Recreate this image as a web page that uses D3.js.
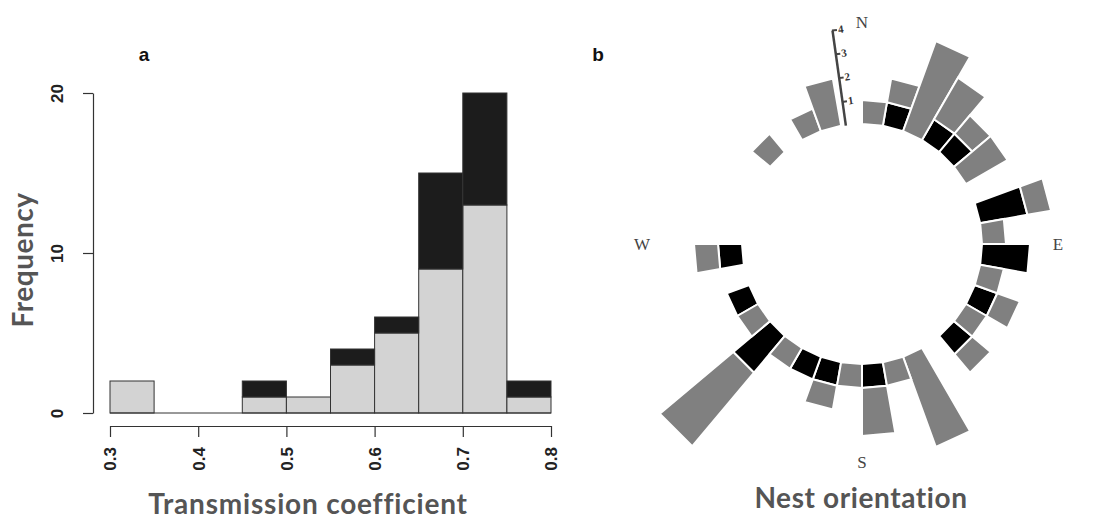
<!DOCTYPE html>
<html>
<head>
<meta charset="utf-8">
<script src="https://cdn.jsdelivr.net/npm/d3@7"></script>
<style>
  body { margin: 0; background: #fff; }
  svg { display: block; }
</style>
</head>
<body>
<div id="chart"></div>
<script>
// panel a: histogram of transmission coefficient
const binStarts = [0.30, 0.35, 0.40, 0.45, 0.50, 0.55, 0.60, 0.65, 0.70, 0.75];
const lightCounts = [2, 0, 0, 1, 1, 3, 5, 9, 13, 1];
const darkCounts  = [0, 0, 0, 1, 0, 1, 1, 6, 7, 1];
const xTicks = [0.3, 0.4, 0.5, 0.6, 0.7, 0.8];
const yTicks = [0, 10, 20];

// panel b: rose diagram of nest orientation, 10 degree sectors
const sectorCentres = [5, 15, 25, 35, 45, 55, 65, 75, 85, 95, 105, 115, 125, 135, 145, 155, 165, 175,
                       185, 195, 205, 215, 225, 235, 245, 255, 265, 275, 285, 295, 305, 315, 325, 335, 345, 355];
const blackCounts = [0, 1, 0, 1, 1, 0, 0, 2, 0, 2, 0, 1, 0, 1, 0, 0, 0, 1,
                     0, 1, 1, 0, 2, 0, 1, 0, 1, 0, 0, 0, 0, 0, 0, 0, 0, 0];
const greyCounts  = [1, 1, 4, 2, 1, 2, 0, 1, 1, 0, 1, 1, 1, 1, 0, 4, 1, 2,
                     1, 1, 0, 1, 4, 1, 0, 0, 1, 0, 0, 0, 0, 1, 0, 1, 2, 0];
const roseTicks = [1, 2, 3, 4];
const compass = ["N", "E", "S", "W"];

const W = 1093, H = 522;
const svg = d3.select("#chart").append("svg")
  .attr("width", W).attr("height", H);

const labelFont = "Lato, 'Open Sans', sans-serif";
const tickFont = "'Liberation Sans', Arial, sans-serif";

// ---------- panel a ----------
const x = d3.scaleLinear().domain([0.3, 0.8]).range([110, 551]);
const y = d3.scaleLinear().domain([0, 20]).range([413, 93]);
const binW = 0.05;

const hist = svg.append("g");

hist.selectAll(".light")
  .data(binStarts.map((b, i) => ({b, n: lightCounts[i]})).filter(d => d.n > 0))
  .enter().append("rect")
  .attr("x", d => x(d.b))
  .attr("width", d => x(d.b + binW) - x(d.b))
  .attr("y", d => y(d.n))
  .attr("height", d => y(0) - y(d.n))
  .attr("fill", "#d3d3d3")
  .attr("stroke", "#333").attr("stroke-width", 1);

hist.selectAll(".dark")
  .data(binStarts.map((b, i) => ({b, lo: lightCounts[i], n: darkCounts[i]})).filter(d => d.n > 0))
  .enter().append("rect")
  .attr("x", d => x(d.b))
  .attr("width", d => x(d.b + binW) - x(d.b))
  .attr("y", d => y(d.lo + d.n))
  .attr("height", d => y(d.lo) - y(d.lo + d.n))
  .attr("fill", "#1c1c1c")
  .attr("stroke", "#333").attr("stroke-width", 1);

// baseline for empty bins
hist.append("line")
  .attr("x1", x(0.3)).attr("x2", x(0.8))
  .attr("y1", y(0)).attr("y2", y(0))
  .attr("stroke", "#333").attr("stroke-width", 1);

// axes
const xAxis = hist.append("g")
  .attr("transform", "translate(0,426)")
  .call(d3.axisBottom(x).tickValues(xTicks).tickSize(11).tickSizeOuter(0).tickFormat(d3.format(".1f")));
xAxis.selectAll("text")
  .attr("transform", "rotate(-90)")
  .attr("x", -21).attr("y", 0).attr("dy", "0.35em")
  .style("text-anchor", "end");

const yAxis = hist.append("g")
  .attr("transform", "translate(93,0)")
  .call(d3.axisLeft(y).tickValues(yTicks).tickSize(10).tickSizeOuter(0));
yAxis.selectAll("text")
  .attr("transform", "rotate(-90)")
  .attr("x", 0).attr("y", -36).attr("dy", "0.35em")
  .style("text-anchor", "middle");

[xAxis, yAxis].forEach(a => {
  a.select(".domain").attr("stroke", "#333").attr("stroke-width", 1.2);
  a.selectAll(".tick line").attr("stroke", "#333").attr("stroke-width", 1.2);
  a.selectAll("text").attr("font-family", tickFont).attr("font-weight", "bold")
    .attr("font-size", 17).attr("fill", "#222");
});

hist.append("text")
  .attr("transform", "translate(33,260) rotate(-90)")
  .attr("text-anchor", "middle")
  .attr("font-family", labelFont).attr("font-weight", "bold")
  .attr("font-size", 28).attr("letter-spacing", 0.5).attr("fill", "#555")
  .text("Frequency");

hist.append("text")
  .attr("x", 308).attr("y", 514)
  .attr("text-anchor", "middle")
  .attr("font-family", labelFont).attr("font-weight", "bold")
  .attr("font-size", 28).attr("letter-spacing", 0.8).attr("fill", "#555")
  .text("Transmission coefficient");

svg.append("text")
  .attr("x", 144).attr("y", 61)
  .attr("text-anchor", "middle")
  .attr("font-family", tickFont).attr("font-weight", "bold")
  .attr("font-size", 19).attr("fill", "#111")
  .text("a");

svg.append("text")
  .attr("x", 598).attr("y", 61)
  .attr("text-anchor", "middle")
  .attr("font-family", tickFont).attr("font-weight", "bold")
  .attr("font-size", 19).attr("fill", "#111")
  .text("b");

// ---------- panel b ----------
const cx = 862, cy = 244;
const r = d3.scaleLinear().domain([0, 4]).range([120, 216]);
const rad = d => d * Math.PI / 180;

const rose = svg.append("g").attr("transform", `translate(${cx},${cy})`);

function sector(a, v0, v1) {
  const a0 = rad(a - 5), a1 = rad(a + 5);
  return [
    d3.pointRadial(a0, r(v0)), d3.pointRadial(a1, r(v0)),
    d3.pointRadial(a1, r(v1)), d3.pointRadial(a0, r(v1))
  ];
}
const poly = d3.line().curve(d3.curveLinearClosed);

const sectors = sectorCentres.map((a, i) => ({a, b: blackCounts[i], g: greyCounts[i]}));

rose.selectAll(".blk")
  .data(sectors.filter(d => d.b > 0))
  .enter().append("path")
  .attr("d", d => poly(sector(d.a, 0, d.b)))
  .attr("fill", "#000")
  .attr("stroke", "#fff").attr("stroke-width", 2);

rose.selectAll(".gry")
  .data(sectors.filter(d => d.g > 0))
  .enter().append("path")
  .attr("d", d => poly(sector(d.a, d.b, d.b + d.g)))
  .attr("fill", "#808080")
  .attr("stroke", "#fff").attr("stroke-width", 2);

// radial scale bar
const scaleG = rose.append("g").attr("transform", "rotate(-8)");
const rs = d3.scaleLinear().domain([0, 4]).range([-r(0), -r(4)]);
scaleG.call(d3.axisRight(rs).tickValues(roseTicks).tickSize(5).tickSizeOuter(0)
  .tickPadding(1).tickFormat(d3.format("d")));
scaleG.select(".domain").attr("stroke", "#444").attr("stroke-width", 2.5);
scaleG.selectAll(".tick line").attr("stroke", "#444").attr("stroke-width", 2);
scaleG.selectAll("text")
  .attr("font-family", "'Liberation Serif', serif").attr("font-weight", "bold")
  .attr("font-size", 11).attr("fill", "#333");

// compass letters
const compassAngle = [0, 90, 180, 270];
const compassR = [222, 196, 218, 220];
rose.selectAll(".cmp")
  .data(compass)
  .enter().append("text")
  .attr("x", (d, i) => d3.pointRadial(rad(compassAngle[i]), compassR[i])[0])
  .attr("y", (d, i) => d3.pointRadial(rad(compassAngle[i]), compassR[i])[1])
  .attr("dy", "0.35em")
  .attr("text-anchor", "middle")
  .attr("font-family", "'Liberation Serif', serif")
  .attr("font-size", 17).attr("fill", "#444")
  .text(d => d);

svg.append("text")
  .attr("x", 861).attr("y", 508)
  .attr("text-anchor", "middle")
  .attr("font-family", labelFont).attr("font-weight", "bold")
  .attr("font-size", 28).attr("letter-spacing", 0.6).attr("fill", "#555")
  .text("Nest orientation");
</script>
</body>
</html>
